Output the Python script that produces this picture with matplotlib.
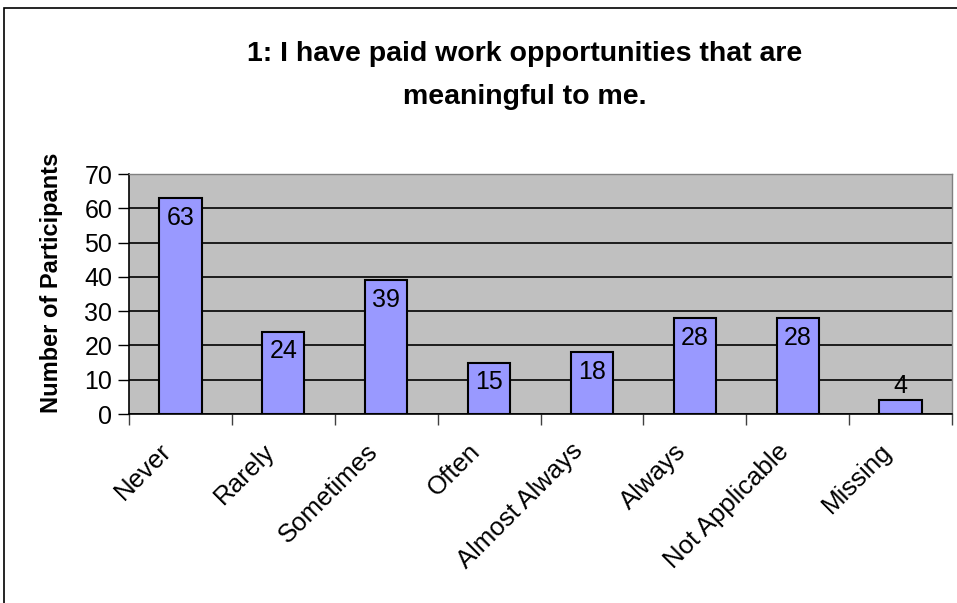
import matplotlib
matplotlib.use("Agg")
import matplotlib.pyplot as plt
from matplotlib.patches import Rectangle
from matplotlib.transforms import ScaledTranslation, blended_transform_factory

plt.rcParams['font.family'] = ['Liberation Sans', 'DejaVu Sans']

categories = ["Never", "Rarely", "Sometimes", "Often", "Almost Always",
              "Always", "Not Applicable", "Missing"]
counts = [63, 24, 39, 15, 18, 28, 28, 4]
y_ticks = [0, 10, 20, 30, 40, 50, 60, 70]

W, H = 957, 603
fig = plt.figure(figsize=(W / 100, H / 100), dpi=100)

# chart-area frame (only left and top edges fall inside the image)
fig.patches.append(Rectangle((4 / W, -0.1), 2, (H - 8) / H + 0.1,
                             transform=fig.transFigure, fill=False,
                             edgecolor="black", linewidth=1.2))

ax = fig.add_axes([129 / W, (H - 414) / H, (952 - 129) / W, 240 / H])
ax.set_facecolor("#C0C0C0")

x = list(range(len(categories)))
ax.bar(x, counts, width=0.41, color="#9999FF", edgecolor="black",
       linewidth=1.5, zorder=3)

for xi, v in zip(x, counts):
    if v > 6:
        ax.text(xi, v - 2.2, str(v), ha="center", va="top", fontsize=18, zorder=4)
    else:
        ax.text(xi, v + 0.6, str(v), ha="center", va="bottom", fontsize=18, zorder=4)

ax.set_xlim(-0.5, len(categories) - 0.5)
ax.set_ylim(0, 70)
ax.set_yticks(y_ticks)
ax.yaxis.grid(True, color="black", linewidth=1.2, zorder=1)
ax.set_axisbelow(True)

# ticks sit on the boundaries between categories
ax.set_xticks([i - 0.5 for i in range(len(categories) + 1)])
ax.set_xticklabels([])
ax.tick_params(axis="x", length=8, width=1.0, color="#404040")
ax.tick_params(axis="y", length=8, width=1.0, labelsize=18, pad=4)

# slanted category names, right end just left of each bar centre
lab_tr = blended_transform_factory(ax.transData, ax.transAxes) + \
    ScaledTranslation(-0.21, -0.25, fig.dpi_scale_trans)
for xi, name in zip(x, categories):
    ax.text(xi, 0, name, transform=lab_tr, rotation=45, ha="right", va="top",
            rotation_mode="anchor", fontsize=18.5, clip_on=False)

for side in ("top", "right"):
    ax.spines[side].set_color("#808080")
    ax.spines[side].set_linewidth(1.0)
for side in ("left", "bottom"):
    ax.spines[side].set_color("black")
    ax.spines[side].set_linewidth(1.2)

ax.set_ylabel("Number of Participants", fontsize=17, fontweight="bold")
ax.yaxis.set_label_coords(-0.080, 0.546)

fig.text(525 / W, 1 - 54 / H, "1: I have paid work opportunities that are",
         ha="center", va="center", fontsize=20.5, fontweight="bold")
fig.text(525 / W, 1 - 97 / H, "meaningful to me.",
         ha="center", va="center", fontsize=20.5, fontweight="bold")

fig.savefig("out.png", dpi=100)
